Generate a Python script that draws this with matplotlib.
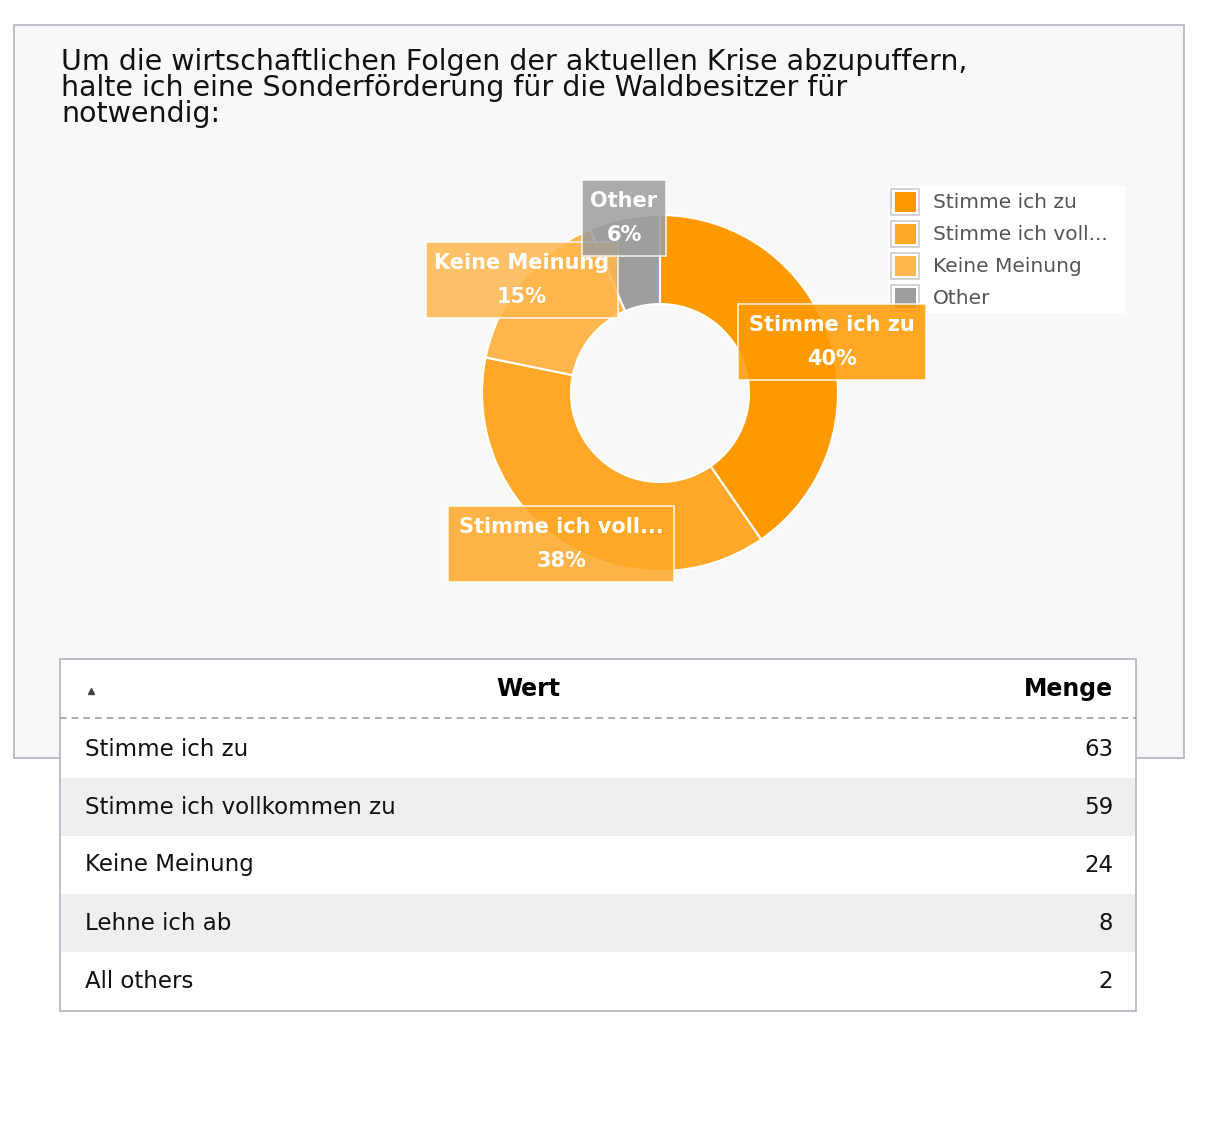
import numpy as np
import matplotlib.pyplot as plt
from matplotlib.patches import Rectangle

title = "Um die wirtschaftlichen Folgen der aktuellen Krise abzupuffern,\nhalte ich eine Sonderförderung für die Waldbesitzer für\nnotwendig:"
slice_names = ["Stimme ich zu", "Stimme ich voll...", "Keine Meinung", "Other"]
slice_values = [63, 59, 24, 10]
slice_colors = ["#ff9900", "#ffa726", "#ffb74d", "#9e9e9e"]
table_rows = ["Stimme ich zu", "Stimme ich vollkommen zu", "Keine Meinung", "Lehne ich ab", "All others"]
table_counts = [63, 59, 24, 8, 2]

W, H = 1224, 1134
fig = plt.figure(figsize=(W / 100, H / 100), dpi=100)
ax = fig.add_axes([0, 0, 1, 1])
ax.set_xlim(0, W)
ax.set_ylim(H, 0)
ax.axis("off")

# chart panel
ax.add_patch(Rectangle((14, 25), 1170, 733, facecolor="#f8f8f8", edgecolor="#aeb4bf", lw=1.2))
ax.text(61, 48, title, fontsize=20.5, va="top", ha="left", color="#111111", linespacing=0.92)

# donut
cx, cy, r = 660, 393, 178
pax = fig.add_axes([(cx - r) / W, 1 - (cy + r) / H, 2 * r / W, 2 * r / H])
pax.pie(slice_values, colors=slice_colors, startangle=90, counterclock=False,
        wedgeprops=dict(width=0.5, edgecolor="white", linewidth=1.5))
pax.set_xlim(-1, 1)
pax.set_ylim(-1, 1)
pax.set_aspect("auto")

# overlay for labels, legend and table
ov = fig.add_axes([0, 0, 1, 1])
ov.set_xlim(0, W)
ov.set_ylim(H, 0)
ov.axis("off")
ov.patch.set_alpha(0)

total = sum(slice_values)
label_pos = [(832, 342), (561, 544), (522, 280), (624, 218)]
label_w = [188, 226, 192, 84]
for name, v, c, (lx, ly), bw in zip(slice_names, slice_values, slice_colors, label_pos, label_w):
    ov.add_patch(Rectangle((lx - bw / 2, ly - 38), bw, 76, facecolor=c, alpha=0.85,
                           edgecolor="white", lw=1.2, zorder=5))
    ov.text(lx, ly - 17, name, color="white", fontsize=15, fontweight="semibold",
            ha="center", va="center", zorder=6)
    ov.text(lx, ly + 17, f"{round(v / total * 100)}%", color="white", fontsize=15,
            fontweight="semibold", ha="center", va="center", zorder=6)

# legend
ov.add_patch(Rectangle((888, 186), 238, 127, facecolor="white", edgecolor="none", zorder=1))
for i, (name, c) in enumerate(zip(slice_names, slice_colors)):
    y = 202 + i * 32
    ov.add_patch(Rectangle((891, y - 13), 28, 26, facecolor="none", edgecolor="#cccccc", lw=1.2, zorder=2))
    ov.add_patch(Rectangle((895, y - 10), 21, 20, facecolor=c, edgecolor="none", zorder=2))
    ov.text(933, y, name, fontsize=14.5, va="center", ha="left", color="#555555", zorder=2)

# table
tl, tr, tt = 60, 1136, 659
ov.add_patch(Rectangle((tl, tt), tr - tl, 352, facecolor="white", edgecolor="#aeb4bf", lw=1.2, zorder=2))
ov.text(528, 689, "Wert", fontsize=17, fontweight="bold", ha="center", va="center", zorder=3)
ov.text(1113, 689, "Menge", fontsize=17, fontweight="bold", ha="right", va="center", zorder=3)
ov.plot([91], [691], marker="^", color="#444444", markersize=5, zorder=3)
ov.plot([tl, tr], [718, 718], ls=(0, (4, 3)), color="#9aa0ad", lw=1.2, zorder=3)
for i, (row, n) in enumerate(zip(table_rows, table_counts)):
    y0 = 720 + i * 58
    if i % 2 == 1:
        ov.add_patch(Rectangle((tl + 1, y0), tr - tl - 2, 58, facecolor="#efefef", edgecolor="none", zorder=2))
    ov.text(85, y0 + 29, row, fontsize=16.5, ha="left", va="center", color="#111111", zorder=3)
    ov.text(1113, y0 + 29, str(n), fontsize=16.5, ha="right", va="center", color="#111111", zorder=3)

fig.savefig("out.png", dpi=100)
